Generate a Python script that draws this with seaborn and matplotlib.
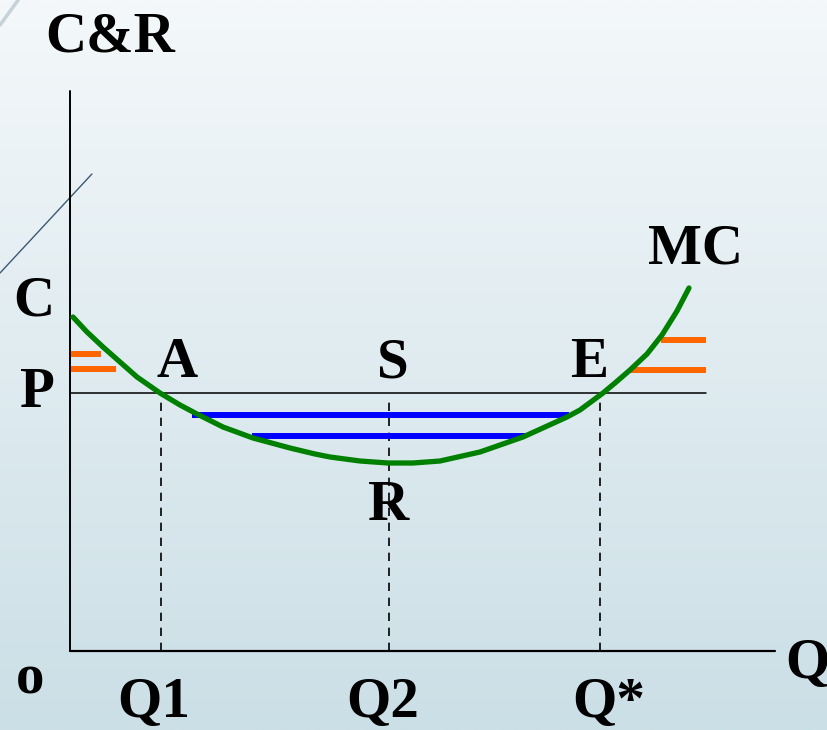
import numpy as np
import pandas as pd
import seaborn as sns
import matplotlib.pyplot as plt
from matplotlib.colors import LinearSegmentedColormap

# MC curve (q = quantity, cr = cost & revenue)
mc_q = [3, 17, 33, 50, 67, 90, 110, 127, 153, 183, 220, 245, 260, 290, 318,
        343, 370, 410, 453, 497, 510, 533, 545, 560, 577, 592, 607, 619]
mc_cr = [334, 319, 304, 289, 274, 258, 246, 237, 224, 213, 203, 197, 194,
         190, 188, 188, 190, 199, 214, 234, 241, 258, 268, 281, 297, 316,
         340, 363]

# price line and the three quantities
price = 258
q_marks = ['Q1', 'Q2', 'Q*']
q_vals = [91, 319, 530]
q_tops = [258, 251, 258]

# blue "layers" (cr, start q, end q)
blue_cr = [236, 215]
blue_start = [122, 182]
blue_end = [499, 455]

# orange ticks (cr, start q, end q)
orange_cr = [297, 282, 311, 281]
orange_start = [1, 1, 591, 560]
orange_end = [31, 46, 636, 636]

sns.set_theme(style='white')
plt.rcParams['font.family'] = ['Liberation Serif', 'DejaVu Serif']

fig = plt.figure(figsize=(8.28, 7.3), dpi=100)

# background gradient
bg = fig.add_axes([0, 0, 1, 1])
cmap = LinearSegmentedColormap.from_list('bg', ['#f4f8fa', '#cbdfe6'])
grad = np.linspace(0, 1, 256).reshape(-1, 1)
bg.imshow(grad, aspect='auto', cmap=cmap, extent=[0, 1, 0, 1], origin='upper')
bg.plot([0, 0.111], [1 - 273 / 730, 1 - 174 / 730], color='#3d5a73', lw=1.0)
bg.plot([0, 0.022], [1 - 25 / 730, 1.0], color='#c5d2d9', lw=2.5)
bg.set_xlim(0, 1)
bg.set_ylim(0, 1)
bg.axis('off')

ax = fig.add_axes([0, 0, 1, 1])
ax.patch.set_alpha(0)

# axes
ax.plot([0, 0], [0, 560], color='black', lw=1.4)
ax.plot([0, 705], [0, 0], color='black', lw=1.6)
ax.plot([0, 636], [price, price], color='black', lw=1.1)

for q, top in zip(q_vals, q_tops):
    ax.plot([q, q], [0, top], color='black', lw=1.2, ls=(0, (5, 4)))

for c, s, e in zip(blue_cr, blue_start, blue_end):
    ax.plot([s, e], [c, c], color='#0000ff', lw=4.3, solid_capstyle='butt')

for c, s, e in zip(orange_cr, orange_start, orange_end):
    ax.plot([s, e], [c, c], color='#ff6600', lw=4.3, solid_capstyle='butt')

mc = pd.DataFrame({'q': mc_q, 'cr': mc_cr})
sns.lineplot(data=mc, x='q', y='cr', sort=False, color='#008000', lw=3.8,
             ax=ax, legend=False, solid_joinstyle='round')

ax.set_xlim(-70, 758)
ax.set_ylim(-79, 651)
ax.axis('off')

fs = 41
lab = dict(ha='center', va='baseline', fontsize=fs, fontweight='bold',
           color='black')
ax.text(40, 599, 'C&R', **lab)
ax.text(626, 388, 'MC', **lab)
ax.text(-36, 335, 'C', **lab)
ax.text(-33, 244, 'P', **lab)
ax.text(107, 274, 'A', **lab)
ax.text(323, 274, 'S', **lab)
ax.text(519, 274, 'E', **lab)
ax.text(319, 131, 'R', **lab)
ax.text(-40, -42, 'o', **lab)
ax.text(737, -27, 'Q', **lab)
for name, x in zip(q_marks, [84, 313, 539]):
    ax.text(x, -66, name, **lab)

fig.savefig('out.png', dpi=100)
